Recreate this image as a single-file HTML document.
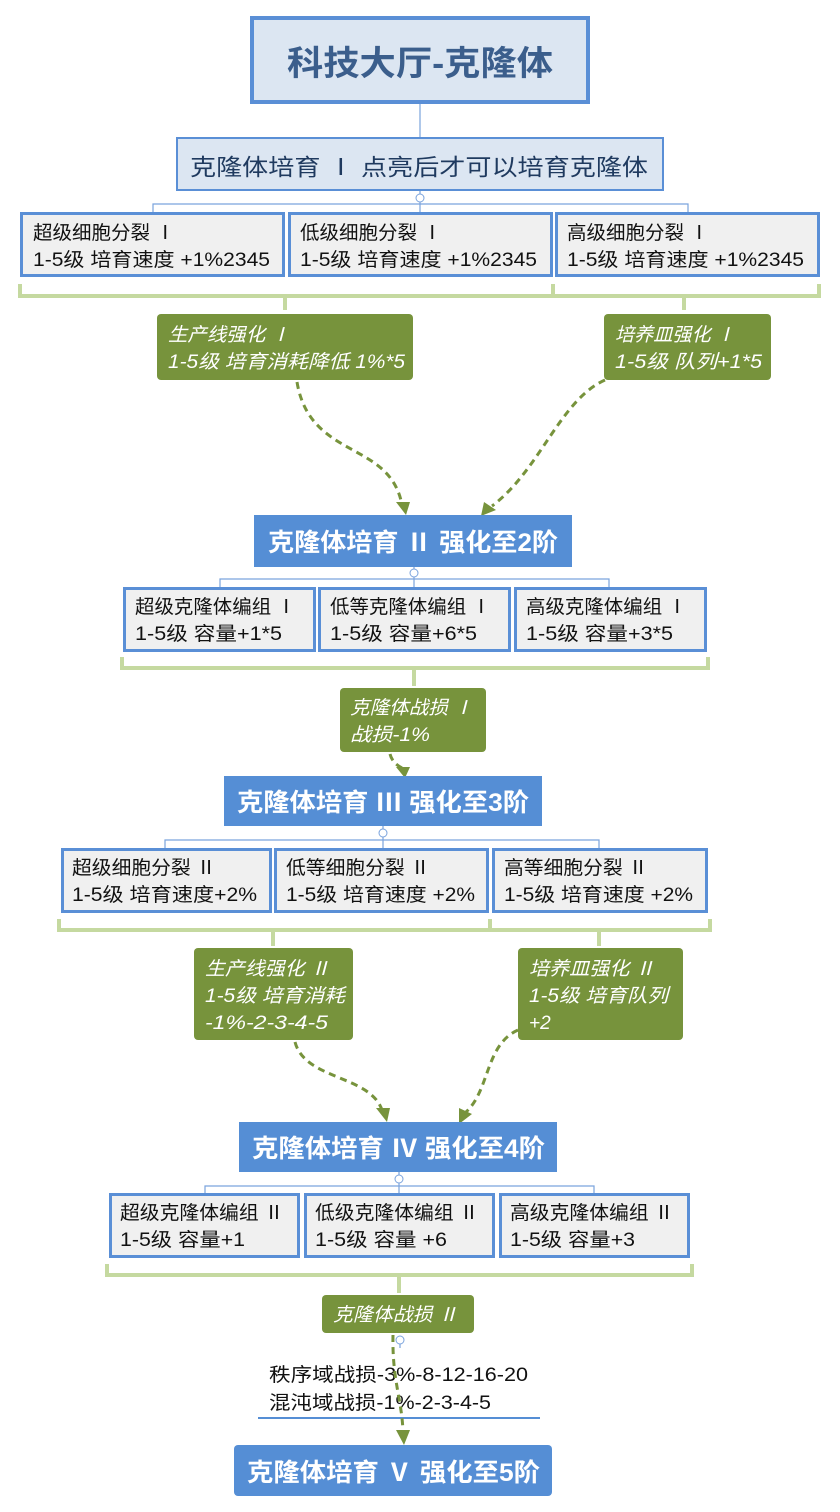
<!DOCTYPE html>
<html><head><meta charset="utf-8"><style>
html,body{margin:0;padding:0;background:#fff;}
svg{display:block;}
text{font-family:"Liberation Sans","Noto Sans CJK SC",sans-serif;}
.w{fill:#111;font-size:19px;}
.g{fill:#fff;font-size:19px;font-style:italic;}
.s{fill:#fff;font-size:25px;font-weight:bold;}
.box{fill:#f0f0f0;stroke:#5a8fd6;stroke-width:3;}
.gb{fill:#77933c;}
.sb{fill:#558ed5;}
.con{fill:none;stroke:#7aa3dd;stroke-width:1.2;}
.br{fill:none;stroke:#c5d9a0;stroke-width:4;}
.d{fill:none;stroke:#77933c;stroke-width:3;stroke-dasharray:7,5;}
.ah{fill:#77933c;}
</style></head><body>
<svg width="840" height="1512" viewBox="0 0 840 1512" xmlns="http://www.w3.org/2000/svg">
<rect x="252" y="18" width="336" height="84" fill="#dce6f2" stroke="#5a8fd6" stroke-width="4"/>
<text x="287" y="75" font-size="34" font-weight="bold" fill="#3b5e8c" textLength="266" lengthAdjust="spacingAndGlyphs">科技大厅-克隆体</text>
<line x1="420" y1="104" x2="420" y2="137" class="con"/>
<rect x="177" y="138" width="486" height="52" fill="#dce6f2" stroke="#5a8fd6" stroke-width="2"/>
<text x="190" y="175" font-size="23" fill="#1f3a5f" textLength="458" lengthAdjust="spacingAndGlyphs">克隆体培育 Ⅰ 点亮后才可以培育克隆体</text>
<path d="M420 191 V212 M153 212 V204 H688 V212" class="con"/>
<circle cx="420" cy="198" r="4" fill="#fff" stroke="#7aa3dd"/>
<rect x="21.5" y="213.5" width="262" height="62" class="box"/>
<rect x="289.5" y="213.5" width="262" height="62" class="box"/>
<rect x="556.5" y="213.5" width="262" height="62" class="box"/>
<text class="w" x="33" y="239" textLength="142" lengthAdjust="spacingAndGlyphs">超级细胞分裂 Ⅰ</text><text class="w" x="33" y="266" textLength="237" lengthAdjust="spacingAndGlyphs">1-5级 培育速度 +1%2345</text>
<text class="w" x="300" y="239" textLength="142" lengthAdjust="spacingAndGlyphs">低级细胞分裂 Ⅰ</text><text class="w" x="300" y="266" textLength="237" lengthAdjust="spacingAndGlyphs">1-5级 培育速度 +1%2345</text>
<text class="w" x="567" y="239" textLength="142" lengthAdjust="spacingAndGlyphs">高级细胞分裂 Ⅰ</text><text class="w" x="567" y="266" textLength="237" lengthAdjust="spacingAndGlyphs">1-5级 培育速度 +1%2345</text>
<path d="M20 284 V296 H819 V284 M553 284 V296 M285 296 V310 M684 296 V310" class="br"/>
<rect x="157" y="314" width="256" height="66" rx="4" class="gb"/>
<text class="g" x="168" y="341" textLength="122" lengthAdjust="spacingAndGlyphs">生产线强化 Ⅰ</text><text class="g" x="168" y="368" textLength="237" lengthAdjust="spacingAndGlyphs">1-5级 培育消耗降低 1%*5</text>
<rect x="604" y="314" width="167" height="66" rx="4" class="gb"/>
<text class="g" x="615" y="341" textLength="120" lengthAdjust="spacingAndGlyphs">培养皿强化 Ⅰ</text><text class="g" x="615" y="368" textLength="147" lengthAdjust="spacingAndGlyphs">1-5级 队列+1*5</text>
<path d="M297 382 C310 460 390 440 402 505" class="d"/>
<polygon points="396,502 410,502 406,515" class="ah"/>
<path d="M605 380 C560 400 540 470 492 506" class="d"/>
<polygon points="484,502 496,510 481,516" class="ah"/>
<rect x="254" y="515" width="318" height="52" class="sb"/>
<text class="s" x="268" y="551" textLength="290" lengthAdjust="spacingAndGlyphs">克隆体培育 Ⅱ 强化至2阶</text>
<path d="M414 567 V587 M220 587 V579 H609 V587" class="con"/>
<circle cx="414" cy="573" r="4" fill="#fff" stroke="#7aa3dd"/>
<rect x="124.5" y="588.5" width="190" height="62" class="box"/>
<rect x="319.5" y="588.5" width="190" height="62" class="box"/>
<rect x="515.5" y="588.5" width="190" height="62" class="box"/>
<text class="w" x="135" y="613" textLength="161" lengthAdjust="spacingAndGlyphs">超级克隆体编组 Ⅰ</text><text class="w" x="135" y="640" textLength="147" lengthAdjust="spacingAndGlyphs">1-5级 容量+1*5</text>
<text class="w" x="330" y="613" textLength="161" lengthAdjust="spacingAndGlyphs">低等克隆体编组 Ⅰ</text><text class="w" x="330" y="640" textLength="147" lengthAdjust="spacingAndGlyphs">1-5级 容量+6*5</text>
<text class="w" x="526" y="613" textLength="161" lengthAdjust="spacingAndGlyphs">高级克隆体编组 Ⅰ</text><text class="w" x="526" y="640" textLength="147" lengthAdjust="spacingAndGlyphs">1-5级 容量+3*5</text>
<path d="M122 657 V668 H708 V657 M414 668 V686" class="br"/>
<rect x="340" y="688" width="146" height="64" rx="4" class="gb"/>
<text class="g" x="350" y="714" textLength="123" lengthAdjust="spacingAndGlyphs">克隆体战损 Ⅰ</text><text class="g" x="350" y="741" textLength="80" lengthAdjust="spacingAndGlyphs">战损-1%</text>
<path d="M390 754 C392 762 398 766 402 768" class="d"/>
<polygon points="396,767 410,767 405,778" class="ah"/>
<rect x="224" y="776" width="318" height="50" class="sb"/>
<text class="s" x="237" y="811" textLength="292" lengthAdjust="spacingAndGlyphs">克隆体培育 Ⅲ 强化至3阶</text>
<path d="M383 826 V848 M165 848 V840 H599 V848" class="con"/>
<circle cx="383" cy="833" r="4" fill="#fff" stroke="#7aa3dd"/>
<rect x="62.5" y="849.5" width="208" height="62" class="box"/>
<rect x="275.5" y="849.5" width="212" height="62" class="box"/>
<rect x="493.5" y="849.5" width="213" height="62" class="box"/>
<text class="w" x="72" y="874" textLength="144" lengthAdjust="spacingAndGlyphs">超级细胞分裂 Ⅱ</text><text class="w" x="72" y="901" textLength="185" lengthAdjust="spacingAndGlyphs">1-5级 培育速度+2%</text>
<text class="w" x="286" y="874" textLength="144" lengthAdjust="spacingAndGlyphs">低等细胞分裂 Ⅱ</text><text class="w" x="286" y="901" textLength="189" lengthAdjust="spacingAndGlyphs">1-5级 培育速度 +2%</text>
<text class="w" x="504" y="874" textLength="144" lengthAdjust="spacingAndGlyphs">高等细胞分裂 Ⅱ</text><text class="w" x="504" y="901" textLength="189" lengthAdjust="spacingAndGlyphs">1-5级 培育速度 +2%</text>
<path d="M59 919 V930 H710 V919 M490 919 V930 M273 930 V946 M599 930 V946" class="br"/>
<rect x="194" y="948" width="159" height="92" rx="4" class="gb"/>
<text class="g" x="205" y="975" textLength="125" lengthAdjust="spacingAndGlyphs">生产线强化 Ⅱ</text><text class="g" x="205" y="1002" textLength="140" lengthAdjust="spacingAndGlyphs">1-5级 培育消耗</text><text class="g" x="205" y="1029" textLength="123" lengthAdjust="spacingAndGlyphs">-1%-2-3-4-5</text>
<rect x="518" y="948" width="165" height="92" rx="4" class="gb"/>
<text class="g" x="529" y="975" textLength="126" lengthAdjust="spacingAndGlyphs">培养皿强化 Ⅱ</text><text class="g" x="529" y="1002" textLength="139" lengthAdjust="spacingAndGlyphs">1-5级 培育队列</text><text class="g" x="529" y="1029">+2</text>
<path d="M295 1042 C305 1080 370 1075 382 1110" class="d"/>
<polygon points="376,1108 390,1108 387,1122" class="ah"/>
<path d="M518 1030 C485 1045 490 1090 466 1112" class="d"/>
<polygon points="459,1108 472,1114 459,1124" class="ah"/>
<rect x="239" y="1122" width="318" height="50" class="sb"/>
<text class="s" x="252" y="1157" textLength="293" lengthAdjust="spacingAndGlyphs">克隆体培育 Ⅳ 强化至4阶</text>
<path d="M399 1172 V1193 M205 1193 V1186 H594 V1193" class="con"/>
<circle cx="399" cy="1179" r="4" fill="#fff" stroke="#7aa3dd"/>
<rect x="110.5" y="1194.5" width="188" height="62" class="box"/>
<rect x="305.5" y="1194.5" width="188" height="62" class="box"/>
<rect x="500.5" y="1194.5" width="188" height="62" class="box"/>
<text class="w" x="120" y="1219" textLength="164" lengthAdjust="spacingAndGlyphs">超级克隆体编组 Ⅱ</text><text class="w" x="120" y="1246" textLength="125" lengthAdjust="spacingAndGlyphs">1-5级 容量+1</text>
<text class="w" x="315" y="1219" textLength="164" lengthAdjust="spacingAndGlyphs">低级克隆体编组 Ⅱ</text><text class="w" x="315" y="1246" textLength="132" lengthAdjust="spacingAndGlyphs">1-5级 容量 +6</text>
<text class="w" x="510" y="1219" textLength="164" lengthAdjust="spacingAndGlyphs">高级克隆体编组 Ⅱ</text><text class="w" x="510" y="1246" textLength="125" lengthAdjust="spacingAndGlyphs">1-5级 容量+3</text>
<path d="M107 1264 V1275 H692 V1264 M399 1275 V1293" class="br"/>
<rect x="322" y="1295" width="152" height="38" rx="4" class="gb"/>
<text class="g" x="333" y="1321" textLength="125" lengthAdjust="spacingAndGlyphs">克隆体战损 Ⅱ</text>
<line x1="400" y1="1340" x2="400" y2="1348" class="con"/>
<circle cx="400" cy="1340" r="4" fill="#fff" stroke="#7aa3dd"/>
<text class="w" x="269" y="1381" textLength="259" lengthAdjust="spacingAndGlyphs">秩序域战损-3%-8-12-16-20</text>
<text class="w" x="269" y="1409" textLength="222" lengthAdjust="spacingAndGlyphs">混沌域战损-1%-2-3-4-5</text>
<line x1="258" y1="1418" x2="540" y2="1418" stroke="#558ed5" stroke-width="2"/>
<path d="M393 1335 C392 1380 402 1400 403 1432" class="d"/>
<polygon points="396,1430 410,1430 404,1445" class="ah"/>
<rect x="234" y="1445" width="318" height="51" rx="4" class="sb"/>
<text class="s" x="247" y="1481" textLength="293" lengthAdjust="spacingAndGlyphs">克隆体培育 Ⅴ 强化至5阶</text>
</svg>
</body></html>
